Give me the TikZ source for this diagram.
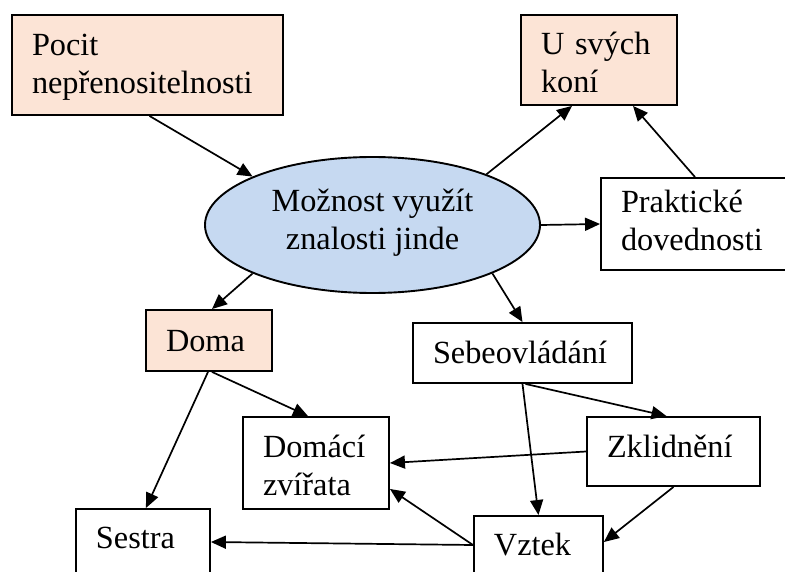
\documentclass[tikz,border=0pt]{standalone}
\usepackage{fontspec}
\setmainfont{Liberation Serif}
\usetikzlibrary{shapes.geometric,arrows.meta}
\definecolor{peach}{HTML}{FCE4D6}
\definecolor{paleblue}{HTML}{C6D9F1}
% fixed first-line height and last-line depth for multi-line labels
\newcommand\txtup[1]{\rule{0pt}{#1}}
\newcommand\txtdown[1]{\rule[-#1]{0pt}{0pt}}
\begin{document}
\begin{tikzpicture}[x=1pt,y=-1pt,
  every node/.style={font=\fontsize{32.3}{38}\selectfont},
  box/.style={draw=black, line width=1.9pt, fill=white, inner xsep=20pt, inner ysep=0pt, align=left},
  warm/.style={box, fill=peach},
  openbox/.style={box, anchor=north west, inner ysep=5pt, text height=35pt, text depth=50pt},
  link/.style={line width=1.7pt, -{Triangle[length=15pt,width=13pt]}}]
\useasboundingbox (0,0) rectangle (785,572);
\clip (0,0) rectangle (785,572);

% boxes
\node[warm, text width=231pt, minimum height=100pt] (pocit) at (147.5,65)
  {\txtup{28pt}Pocit\\nepřenositelnosti\txtdown{8pt}};
\node[warm, text width=116pt, minimum height=90pt] (usv) at (599,60)
  {\txtup{30pt}U svých\\koní\txtdown{2pt}};
\node[box, text width=159pt, minimum height=92pt] (prak) at (700.5,224)
  {\txtup{24pt}Praktické\\dovednosti\txtdown{8pt}};
\node[ellipse, draw=black, line width=1.9pt, fill=paleblue, minimum width=335pt, minimum height=136pt,
      inner sep=0pt, align=center] (ell) at (372.5,225)
  {\txtup{30pt}Možnost využít\\znalosti jinde\txtdown{18pt}};
\node[warm, text width=86pt, minimum height=61pt, text height=25pt, text depth=4pt] (doma) at (209,340.5) {Doma};
\node[box, text width=179pt, minimum height=60pt, text height=24pt, text depth=4pt] (sebe) at (522.5,353) {Sebeovládání};
\node[box, text width=106pt, minimum height=92pt] (domaci) at (316,463)
  {\txtup{28pt}Domácí\\zvířata\txtdown{2pt}};
\node[box, text width=133pt, minimum height=69pt, text height=25pt, text depth=14pt] (zk) at (673.5,451.5) {Zklidnění};
\node[openbox, text width=94pt] (sestra) at (75,508) {Sestra};
\node[openbox, text width=89pt] (vztek) at (473,515) {Vztek};

% connectors
\draw[link] ([xshift=2pt]pocit.south) -- (ell.158);
\draw[link] (ell.24) -- ([xshift=-27pt]usv.south);
\draw[link] ([xshift=-5.5pt]prak.north) -- ([xshift=34pt]usv.south);
\draw[link] (ell.east) -- (prak.west);
\draw[link] (ell.202) -- ([xshift=3pt]doma.north);
\draw[link] (ell.338) -- (sebe.north);
\draw[link] ([xshift=3pt]doma.south) -- ([xshift=-8pt]domaci.north);
\draw[link] ([xshift=-1pt]doma.south) -- ([xshift=3pt]sestra.north);
\draw[link] ([xshift=3pt]sebe.south) -- ([xshift=-7pt]zk.north);
\draw[link] (sebe.south) -- (vztek.north);
\draw[link] (zk.west) -- (domaci.east);
\draw[link] (zk.south) -- ([yshift=-27pt]vztek.north east);
\draw[link] ([yshift=-30pt]vztek.north west) -- ([yshift=21pt]domaci.south east);
\draw[link] ([yshift=-30pt]vztek.north west) -- ([yshift=-34pt]sestra.north east);
\end{tikzpicture}
\end{document}
